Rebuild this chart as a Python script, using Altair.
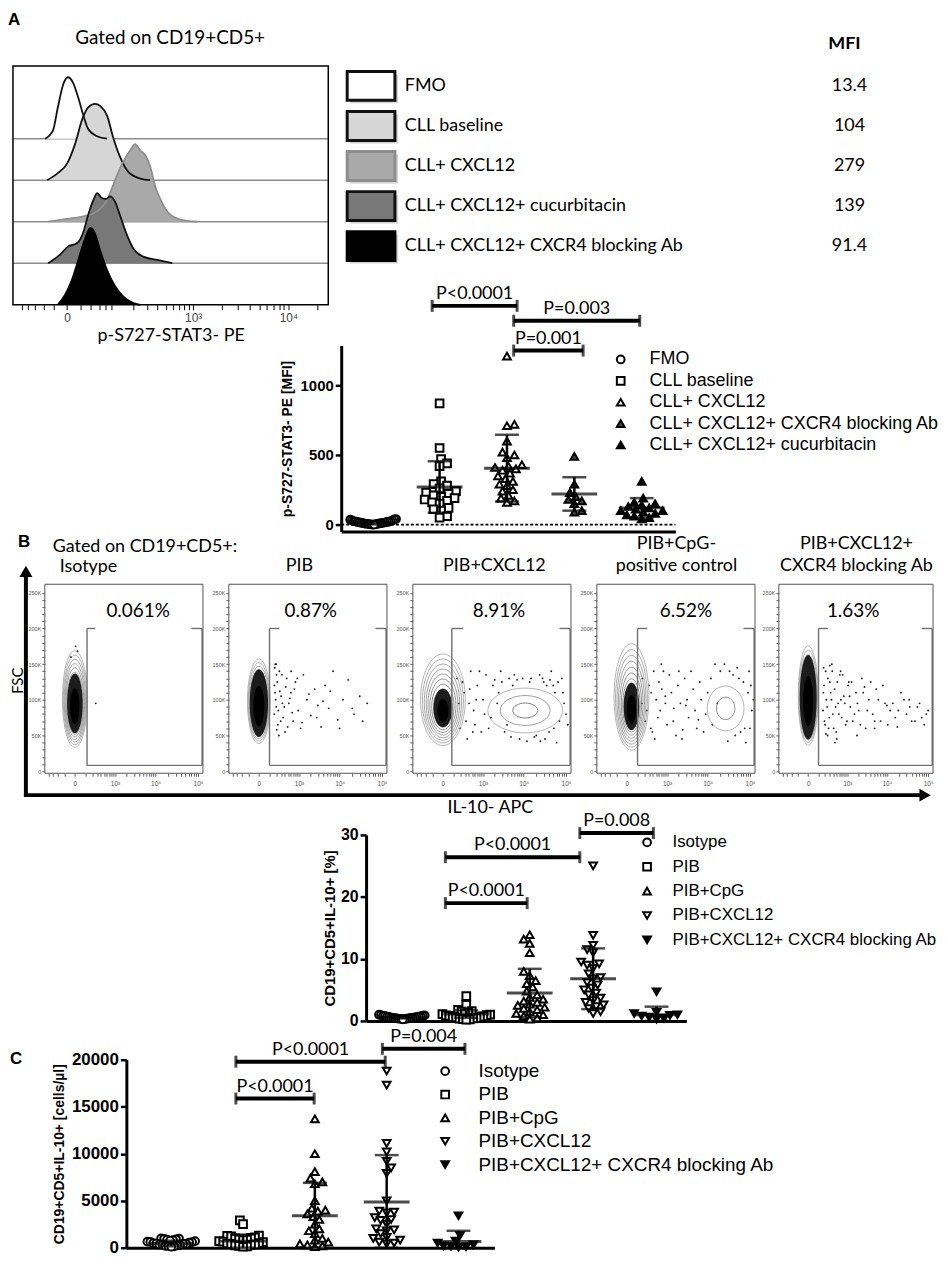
import altair as alt
import numpy as np
import pandas as pd

SANS = "Liberation Sans"
CAL = "Lato"
W, H = 932, 1248          # whole canvas (plot area == canvas, padding 0)

# ======================= A: histogram overlay =======================
HIST_NAMES = ["FMO", "CLL baseline", "CLL+ CXCL12", "CLL+ CXCL12+ cucurbitacin",
              "CLL+ CXCL12+ CXCR4 blocking Ab"]
HIST_MFI = ["13.4", "104", "279", "139", "91.4"]
HIST_FILL = ["#ffffff", "#d6d6d6", "#a9a9a9", "#787878", "#000000"]
HIST_EDGE = ["#111111", "#111111", "#8e8e8e", "#111111", "#000000"]
HIST_LANE = [4, 3, 2, 1, 0]

fmo_x = [-36, -21, -13, -5, 1, 8, 16, 25, 34, 55, 84]
fmo_h = [0, 0.2, 0.75, 1.31, 1.48, 1.35, 0.99, 0.56, 0.24, 0.06, 0]
base_x = [-32, -14, 0, 11, 23, 34, 50, 63, 84, 105, 133, 173, 247, 327]
base_h = [0, 0.16, 0.40, 0.87, 1.47, 1.75, 1.84, 1.79, 1.55, 1.03, 0.56, 0.2, 0.04, 0]
cxcl_x = [-30, 0, 25, 55, 84, 113, 147, 184, 213, 247, 285, 327, 375, 453, 558, 762, 1110]
cxcl_h = [0, 0.07, 0.13, 0.25, 0.53, 1.01, 1.44, 1.72, 1.87, 1.72, 1.6, 1.33, 0.85, 0.45, 0.17, 0.04, 0]
cucu_x = [-30, -10, 1, 14, 25, 34, 45, 55, 69, 81, 94, 113, 133, 167, 201, 269, 396, 588]
cucu_h = [0, 0.2, 0.4, 0.48, 0.75, 1.15, 1.5, 1.69, 1.56, 1.55, 1.61, 1.47, 1.15, 0.67, 0.36, 0.16, 0.08, 0]
block_x = [-13, -2.5, 6.5, 16, 28, 39, 50, 63, 84, 113, 147, 201, 247]
block_h = [0, 0.24, 0.6, 1.07, 1.59, 1.85, 1.71, 1.31, 0.83, 0.44, 0.2, 0.04, 0]
HIST_X = [fmo_x, base_x, cxcl_x, cucu_x, block_x]
HIST_H = [fmo_h, base_h, cxcl_h, cucu_h, block_h]
HX_TICKS = [-100, -80, -60, -40, -20, 0, 20, 40, 60, 80, 100] + list(range(200, 1000, 100)) \
    + list(range(1000, 10000, 1000)) + [10000, 20000]

# ======================= A: dot plot =======================
A_GROUPS = ["FMO", "CLL baseline", "CLL+ CXCL12", "CLL+ CXCL12+ CXCR4 blocking Ab",
            "CLL+ CXCL12+ cucurbitacin"]
A_SHAPES = ["circle", "square", "triangle-up", "triangle-up", "triangle-up"]
A_FILLS = ["white", "white", "white", "#444444", "black"]
a_fmo = [40, 38, 35, 30, 28, 25, 24, 22, 20, 19, 18, 16, 15, 13, 12, 11, 10, 8, 7, 6, 5, 4, 3, 2,
         0, 0]
a_base = [870, 550, 470, 440, 420, 310, 290, 280, 260, 240, 230, 220, 210, 200, 190, 180,
          170, 160, 150, 120, 110, 100, 60, 50]
a_cxcl = [1210, 720, 710, 600, 520, 500, 480, 430, 420, 410, 400, 390, 370, 350, 330, 310,
          290, 280, 250, 240, 210, 190, 170, 160]
a_block = [490, 290, 230, 200, 180, 170, 150, 100, 90]
a_cucu = [310, 190, 160, 150, 140, 130, 120, 110, 100, 100, 90, 80, 70, 60, 50, 40]
A_MEAN = [13, 270, 405, 220, 120]
A_SD = [12, 185, 240, 120, 70]
A_BR_X1 = [0.89, 2.1, 2.1]
A_BR_X2 = [2.15, 3.97, 3.13]
A_BR_Y = [1571, 1464, 1250]
A_BR_LAB = ["P<0.0001", "P=0.003", "P=0.001"]

# ======================= B: flow panels =======================
FLOW_TITLES = [["Gated on CD19+CD5+:", "Isotype"], ["PIB"], ["PIB+CXCL12"],
               ["PIB+CpG-", "positive control"], ["PIB+CXCL12+", "CXCR4 blocking Ab"]]
FLOW_PCT = ["0.061%", "0.87%", "8.91%", "6.52%", "1.63%"]
PCT_X = [3800, 2000, 2550, 3000, 1430]
PCT_Y = 225
GATE_L = [120, 100, 80, 100, 100]
GATE_R = 125000
GATE_B, GATE_T = 8, 200
STUB_L, STUB_R = 260, 70000
CL_PANEL = [0, 1, 2, 2, 3, 3, 4]
CL_X = [0, 0, 0, 10900, 36, 26700, 0]
CL_Y = [101, 98, 100, 85, 104, 88, 106]
CL_CORE_Y = [85, 85, 80, 85, 80, 88, 90]
CL_W = [25, 23, 45, 75, 35, 37, 20]
CL_H = [97, 85, 92, 45, 107, 45, 100]
CL_RINGS = [14, 14, 12, 3, 12, 2, 14]
CL_CORE = [0.62, 0.8, 0.42, 0.0, 0.45, 0.0, 0.85]
ev_iso_x = [270, 5, 20, -30]
ev_iso_y = [95, 175, 168, 160]
ev_pib_x = [170, 200, 230, 260, 300, 350, 400, 450, 520, 600, 700, 800, 950, 1100, 1300, 1600,
            2000, 2500, 3000, 3600, 4500, 5500, 7000, 9000, 12000, 16000, 22000, 30000, 45000,
            200, 250, 180,
            165, 175, 190, 210, 220, 240, 270, 290, 320, 380, 420, 480, 560, 650, 750, 900,
            1200, 1800, 2800, 4000, 6000, 10000, 20000, 35000, 185, 205, 330, 610]
ev_pib_y = [120, 90, 65, 140, 105, 75, 55, 130, 95, 110, 70, 125, 85, 60, 135, 100, 78, 115, 92,
            62, 120, 88, 140, 72, 100, 128, 80, 105, 95, 150, 50, 110,
            80, 145, 100, 58, 125, 85, 112, 70, 135, 90, 118, 62, 102, 82, 115, 130,
            68, 108, 75, 98, 112, 60, 88, 70, 150, 135, 95, 140]
ev_cx_x = [150, 200, 280, 350, 450, 550, 700, 900, 1200, 1600, 2000, 3000, 4500, 6000, 8000,
           15000, 20000, 30000, 40000, 55000, 70000, 90000, 60000, 45000, 25000, 5000, 2500,
           1000, 600, 400, 35000, 80000,
           180, 240, 320, 420, 520, 650, 800, 1100, 1400, 1800, 2300, 2800, 3500, 4000, 5500,
           7000, 9500, 12000, 14000, 18000, 24000, 32000, 42000, 52000, 65000, 85000, 100000,
           110000, 50000, 28000]
ev_cx_y = [130, 60, 110, 45, 140, 85, 120, 55, 135, 75, 128, 125, 130, 135, 45, 130, 50, 125, 55,
           110, 70, 95, 40, 140, 42, 48, 110, 100, 65, 95, 120, 130,
           95, 125, 70, 115, 55, 100, 140, 80, 60, 120, 95, 140, 55, 65, 120,
           128, 130, 42, 125, 48, 135, 45, 128, 60, 125, 110, 80, 65, 120, 130]
ev_cpg_x = [160, 220, 300, 380, 500, 650, 800, 1000, 1300, 1700, 2200, 2800, 3500, 4500, 5500,
            7000, 9000, 12000, 15000, 50000, 70000, 90000, 100000, 60000, 80000, 40000, 1500,
            2500, 600, 900, 450, 3000, 6000, 20000, 110000, 95000,
            170, 250, 340, 420, 560, 720, 900, 1150, 1450, 1900, 2400, 3200, 4000, 5000, 6500,
            8000, 10000, 13000, 17000, 25000, 33000, 45000, 55000, 75000, 105000, 120000, 30000,
            2000, 700, 350]
ev_cpg_y = [95, 70, 120, 55, 100, 85, 140, 65, 110, 50, 95, 130, 75, 115, 60, 100, 80, 130, 150,
            145, 125, 110, 60, 55, 40, 135, 88, 58, 125, 105, 45, 92, 72, 140, 85, 140,
            130, 85, 60, 140, 75, 115, 95, 135, 70, 120, 45, 100, 140, 85, 125,
            55, 110, 65, 95, 150, 140, 50, 130, 60, 120, 100, 42, 140, 150, 110]
ev_blk_x = [170, 190, 210, 240, 270, 300, 340, 380, 430, 480, 550, 620, 700, 800, 900, 1050, 1200,
            1400, 1700, 2000, 2400, 3000, 3600, 4500, 5500, 7000, 9000, 12000, 16000, 22000,
            30000, 40000, 55000, 70000, 90000, 250, 350, 500, 650, 1100, 1800, 2800, 5000,
            10000, 18000, 35000,
            165, 180, 200, 225, 255, 285, 320, 360, 400, 460, 520, 580, 660, 750, 850, 980,
            1150, 1300, 1550, 1850, 2200, 2600, 3300, 4000, 5000, 6200, 8000, 10500, 14000,
            19000, 26000, 36000, 48000, 62000, 80000, 100000, 175, 215, 300, 440]
ev_blk_y = [110, 70, 140, 90, 60, 125, 100, 80, 115, 55, 95, 135, 75, 105, 65, 120, 90, 70, 110,
            85, 130, 60, 100, 80, 115, 70, 95, 85, 75, 110, 80, 70, 90, 75, 80, 50, 150, 45, 140,
            125, 50, 118, 60, 92, 62, 100,
            85, 120, 65, 100, 130, 75, 110, 140, 60, 90, 125, 80, 100, 135, 95, 70,
            105, 125, 80, 95, 65, 110, 85, 125, 70, 100, 120, 65, 95,
            85, 100, 90, 70, 95, 65, 85, 145, 52, 148, 40]
EV_X = [ev_iso_x, ev_pib_x, ev_cx_x, ev_cpg_x, ev_blk_x]
EV_Y = [ev_iso_y, ev_pib_y, ev_cx_y, ev_cpg_y, ev_blk_y]
FX_TICKS = [-400, -300, -200, -100, 0] + list(range(100, 1000, 100)) + list(range(1000, 10000, 1000)) \
    + list(range(10000, 100000, 10000)) + [100000]

# ======================= B: dot plot =======================
B_GROUPS = ["Isotype", "PIB", "PIB+CpG", "PIB+CXCL12", "PIB+CXCL12+ CXCR4 blocking Ab"]
B_SHAPES = ["circle", "square", "triangle-up", "triangle-down", "triangle-down"]
B_FILLS = ["white", "white", "white", "white", "black"]
b_iso = [1.0, 0.95, 0.9, 0.85, 0.82, 0.8, 0.75, 0.7, 0.68, 0.65, 0.6, 0.58, 0.55, 0.5, 0.5, 0.48,
         0.45, 0.42, 0.4, 0.38, 0.35, 0.32, 0.3, 0.25]
b_pib = [4.0, 2.6, 1.8, 1.6, 1.5, 1.3, 1.2, 1.1, 1.0, 0.95, 0.9, 0.8, 0.75, 0.7, 0.6, 0.55, 0.5,
         0.4, 0.35, 0.3, 0.25, 0.2]
b_cpg = [13.9, 13.2, 12.5, 11.0, 8.0, 7.3, 6.5, 6.0, 5.5, 4.8, 4.2, 3.8, 3.5, 3.2, 3.0, 2.7, 2.5,
         2.2, 2.0, 1.8, 1.5, 1.2, 1.0, 0.8, 0.5, 0.3]
b_cxcl = [25.0, 13.8, 12.2, 11.5, 11.0, 9.5, 9.2, 9.0, 8.5, 7.6, 7.0, 6.8, 6.2, 5.8, 5.3, 5.0, 4.5,
          4.2, 3.7, 3.3, 3.0, 2.6, 2.3, 2.0, 1.5, 1.2]
b_block = [4.7, 1.4, 1.2, 1.0, 0.9, 0.8, 0.6, 0.4, 0.3]
B_MEAN = [0.6, 1.1, 4.5, 6.8, 1.0]
B_SD = [0.2, 0.6, 3.9, 4.9, 1.3]
B_BR_X1 = [0.67, 0.67, 2.79]
B_BR_X2 = [1.96, 2.79, 3.95]
B_BR_Y = [19.0, 26.4, 30.3]
B_BR_LAB = ["P<0.0001", "P<0.0001", "P=0.008"]

# ======================= C: dot plot =======================
c_iso = [1000, 980, 950, 900, 850, 800, 750, 700, 650, 620, 600, 550, 500, 450, 420, 400, 350,
         320, 300, 250, 200, 180, 150, 100]
c_pib = [2900, 2500, 1300, 1250, 1200, 1100, 1050, 1000, 900, 850, 800, 700, 650, 600, 500, 450,
         400, 350, 300, 250, 200, 150, 100]
c_cpg = [13700, 10000, 8100, 7400, 7000, 6800, 5000, 4200, 4000, 3900, 3600, 3300, 3000, 2500,
         2000, 1800, 1500, 1000, 800, 600, 400, 300, 200, 100]
c_cxcl = [18800, 17300, 11100, 10200, 9200, 8500, 7900, 5000, 3900, 3800, 3700, 3200, 3000, 2900,
          2500, 2000, 1900, 1800, 1500, 1100, 1000, 800, 600, 500, 400]
c_block = [3400, 1300, 700, 500, 300, 200, 150, 100, 50]
C_MEAN = [450, 700, 3400, 4850, 650]
C_SD = [300, 700, 3500, 5000, 1150]
C_BR_X1 = [0.9, 0.9, 2.94]
C_BR_X2 = [1.99, 2.98, 4.09]
C_BR_Y = [15870, 19790, 21160]
C_BR_LAB = ["P<0.0001", "P<0.0001", "P=0.004"]

# ======================= layout (canvas pixels) =======================
HIST_XR, HIST_YR = [5, 322], [294, 54]
LEG_ROW_Y = [74, 235]
DOTA_XR, DOTA_YR = [335, 671], [522, 335]
FLOW_X0 = [37, 222, 407, 592, 775]
FLOW_W = [159, 159, 159, 159, 155]
FLOW_YR = [765, 575]
TITLE_X = [None, 293, 489, 672, 853]
DOTB_XR, DOTB_YR = [360, 682], [1014, 827]
DOTC_XR, DOTC_YR = [119, 489], [1242, 1053]


# ------------------------------------------------------------------
def txt(s, x, y, **kw):
    base = dict(align="left", baseline="top", font=CAL, fontSize=18, color="black")
    base.update(kw)
    return alt.Chart(pd.DataFrame({"t": [s]})).mark_text(**base).encode(
        x=alt.value(x), y=alt.value(y), text="t:N")


def swarm(vals, ppx, ppy, d, maxspread):
    placed, offs = [], [0.0] * len(vals)
    for i in sorted(range(len(vals)), key=lambda k: vals[k]):
        y = vals[i] * ppy
        chosen = 0.0
        for j in range(0, 400):
            if j == 0:
                cands = [0.0]
            elif j % 2:
                cands = [j * 1.5, -j * 1.5]
            else:
                cands = [-j * 1.5, j * 1.5]
            ok = None
            for c in cands:
                if all((c - px) ** 2 + (y - py) ** 2 >= d * d for px, py in placed):
                    ok = c
                    break
            if ok is not None:
                chosen = ok
                break
        placed.append((chosen, y))
        offs[i] = chosen
    m = max(abs(o) for o in offs) or 1.0
    s = min(1.0, maxspread / m)
    return [o * s / ppx for o in offs]


def dot_plot(groups, shapes, fills, lists, means, sds, bx1, bx2, by, blab, xdom, ydom, yticks,
             xr, yr, ytitle, tick_fs, title_fs, title_pad, leg, zero_line=False, d=7.0):
    ppx = (xr[1] - xr[0]) / (xdom[1] - xdom[0])
    ppy = (yr[0] - yr[1]) / (ydom[1] - ydom[0])
    rows = []
    for gi, vals in enumerate(lists):
        for v, o in zip(vals, swarm(vals, ppx, ppy, d, 24)):
            rows.append({"grp": groups[gi], "pos": gi + o, "val": v})
    pts = pd.DataFrame(rows)
    xs = alt.Scale(domain=xdom, range=xr, nice=False, zero=False)
    ys = alt.Scale(domain=ydom, range=yr, nice=False, zero=False)
    xax = alt.Axis(orient="bottom", offset=yr[0] - H, labels=False, ticks=False, title=None,
                   domainWidth=3, domainColor="black", grid=False)
    yax = alt.Axis(orient="left", offset=-xr[0], values=yticks, format="d", title=ytitle,
                   titleFont=SANS, titleFontWeight="bold", titleFontSize=title_fs,
                   titleColor="black", titlePadding=title_pad, labelFont=SANS,
                   labelFontWeight="bold", labelFontSize=tick_fs, labelColor="black",
                   labelPadding=2, tickSize=6, tickWidth=2.5, tickColor="black",
                   domainWidth=3, domainColor="black", grid=False, labelFlush=False)
    legend = alt.Legend(orient="none", legendX=leg["x"], legendY=leg["y"], title=None,
                        labelFont=SANS, labelFontSize=leg["fs"], labelColor="black",
                        symbolSize=60, symbolStrokeWidth=2, rowPadding=leg["rp"],
                        labelOffset=leg["lo"], symbolOpacity=1, labelLimit=500)
    X = lambda f: alt.X(f, scale=xs, axis=xax)
    Y = lambda f: alt.Y(f, scale=ys, axis=yax)
    layers = []
    if zero_line:
        layers.append(alt.Chart(pd.DataFrame({"a": [xdom[0]], "b": [xdom[1]], "z": [0]})).mark_rule(
            strokeDash=[3, 2], strokeWidth=1.6, color="black").encode(
            x=X("a:Q"), x2="b:Q", y=Y("z:Q")))
    layers.append(alt.Chart(pts).mark_point(filled=True, strokeWidth=2, size=60,
                                            opacity=1).encode(
        x=X("pos:Q"), y=Y("val:Q"),
        shape=alt.Shape("grp:N", scale=alt.Scale(domain=groups, range=shapes), legend=legend),
        fill=alt.Fill("grp:N", scale=alt.Scale(domain=groups, range=fills), legend=legend),
        stroke=alt.Stroke("grp:N", scale=alt.Scale(domain=groups, range=["black"] * len(groups)),
                          legend=legend)))
    st = pd.DataFrame({"pos": list(range(len(groups))), "mean": means,
                       "lo": [max(m - s, ydom[0]) for m, s in zip(means, sds)],
                       "hi": [m + s for m, s in zip(means, sds)]})
    layers.append(alt.Chart(st).mark_rule(strokeWidth=2.5, color="black").encode(
        x=X("pos:Q"), y=Y("lo:Q"), y2="hi:Q"))
    layers.append(alt.Chart(st).mark_tick(orient="horizontal", size=46, thickness=3,
                                          color="black").encode(x=X("pos:Q"), y=Y("mean:Q")))
    layers.append(alt.Chart(st).mark_tick(orient="horizontal", size=24, thickness=2.5,
                                          color="black").encode(x=X("pos:Q"), y=Y("hi:Q")))
    layers.append(alt.Chart(st).mark_tick(orient="horizontal", size=24, thickness=2.5,
                                          color="black").encode(x=X("pos:Q"), y=Y("lo:Q")))
    br = pd.DataFrame({"x1": bx1, "x2": bx2, "y": by, "lab": blab,
                       "xm": [(a + b) / 2 for a, b in zip(bx1, bx2)]})
    layers.append(alt.Chart(br).mark_rule(strokeWidth=4, color="black").encode(
        x=X("x1:Q"), x2="x2:Q", y=Y("y:Q")))
    layers.append(alt.Chart(br).transform_fold(["x1", "x2"], as_=["end", "xe"]).mark_tick(
        orient="vertical", size=12, thickness=3, color="black").encode(x=X("xe:Q"), y=Y("y:Q")))
    layers.append(alt.Chart(br).mark_text(font=CAL, fontSize=18, baseline="alphabetic", dy=-7,
                                          color="black").encode(x=X("xm:Q"), y=Y("y:Q"),
                                                                text="lab:N"))
    return alt.layer(*layers)


def ellipse_path(a):
    k = 0.5523
    return (f"M0,-1C{k*a:.3f},-1,{a:.3f},{-k:.3f},{a:.3f},0"
            f"C{a:.3f},{k:.3f},{k*a:.3f},1,0,1"
            f"C{-k*a:.3f},1,{-a:.3f},{k:.3f},{-a:.3f},0"
            f"C{-a:.3f},{-k:.3f},{-k*a:.3f},-1,0,-1Z")


def flow_panel(p):
    x0, w = FLOW_X0[p], FLOW_W[p]
    FX = alt.Scale(type="symlog", constant=129, domain=[-527, 131000], range=[x0, x0 + w],
                   nice=False, zero=False)
    FY = alt.Scale(domain=[-3, 262], range=FLOW_YR, nice=False, zero=False)
    fx_axis = alt.Axis(orient="bottom", offset=FLOW_YR[0] - H, values=FX_TICKS,
                       labelExpr="datum.value == 0 ? '0' : datum.value == 1000 ? '10³' : "
                                 "datum.value == 10000 ? '10⁴' : datum.value == 100000 ? '10⁵' : ''",
                       tickSize=3, tickColor="#333", tickWidth=0.8, domain=False, grid=False,
                       labelFont=SANS, labelFontSize=6.5, labelColor="#555", labelPadding=4,
                       labelOverlap=False, labelFlush=False, title=None)
    fy_axis = alt.Axis(orient="left", offset=-x0, values=list(range(0, 260, 10)),
                       labelExpr="datum.value % 50 == 0 ? (datum.value == 0 ? '0' : datum.value + 'K') : ''",
                       tickSize=3, tickColor="#333", tickWidth=0.8, domain=False, grid=False,
                       labelFont=SANS, labelFontSize=5.5, labelColor="#555", labelPadding=1,
                       labelOverlap=False, labelFlush=False, title=None)
    X = lambda f: alt.X(f, scale=FX, axis=fx_axis)
    Y = lambda f: alt.Y(f, scale=FY, axis=fy_axis)
    layers = []
    ev = pd.DataFrame({"x": EV_X[p], "y": EV_Y[p]})
    layers.append(alt.Chart(ev).mark_circle(size=3.5, color="#1a1a1a", opacity=1).encode(
        x=X("x:Q"), y=Y("y:Q")))
    rings, cores = [], []
    for c in range(len(CL_PANEL)):
        if CL_PANEL[c] != p:
            continue
        path = ellipse_path(CL_W[c] / CL_H[c])
        n = CL_RINGS[c]
        for j in range(n):
            t = 1 - j / n
            g = int(0x2a + (0x95 - 0x2a) * t)
            rings.append({"x": CL_X[c], "y": CL_CORE_Y[c] + (CL_Y[c] - CL_CORE_Y[c]) * t,
                          "shape": path, "size": (CL_H[c] * t) ** 2,
                          "col": f"#{g:02x}{g:02x}{g:02x}"})
        if CL_CORE[c] > 0:
            for f, col in [(CL_CORE[c], "#1c1c1c"), (CL_CORE[c] * 0.6, "#000000")]:
                cores.append({"x": CL_X[c], "y": CL_CORE_Y[c] + (CL_Y[c] - CL_CORE_Y[c]) * f,
                              "shape": path, "size": (CL_H[c] * f) ** 2, "col": col})
    layers.append(alt.Chart(pd.DataFrame(rings)).mark_point(filled=False, strokeWidth=0.7,
                                                            opacity=1).encode(
        x=X("x:Q"), y=Y("y:Q"), shape=alt.Shape("shape:N", scale=None),
        size=alt.Size("size:Q", scale=None), stroke=alt.Stroke("col:N", scale=None)))
    if cores:
        layers.append(alt.Chart(pd.DataFrame(cores)).mark_point(filled=True, opacity=1,
                                                                strokeWidth=0).encode(
            x=X("x:Q"), y=Y("y:Q"), shape=alt.Shape("shape:N", scale=None),
            size=alt.Size("size:Q", scale=None), fill=alt.Fill("col:N", scale=None)))
    gl = GATE_L[p]
    gate = pd.DataFrame({
        "x": [gl, gl, GATE_R, gl, STUB_R],
        "x2": [gl, GATE_R, GATE_R, STUB_L, GATE_R],
        "y": [GATE_B, GATE_B, GATE_B, GATE_T, GATE_T],
        "y2": [GATE_T, GATE_B, GATE_T, GATE_T, GATE_T]})
    layers.append(alt.Chart(gate).mark_rule(color="#707070", strokeWidth=1.4).encode(
        x=X("x:Q"), x2="x2:Q", y=Y("y:Q"), y2="y2:Q"))
    frame = pd.DataFrame({"x": [-527], "x2": [131000], "y": [-3], "y2": [262]})
    layers.append(alt.Chart(frame).mark_rect(fill="white", fillOpacity=0, stroke="#555",
                                             strokeWidth=1).encode(
        x=X("x:Q"), x2="x2:Q", y=Y("y:Q"), y2="y2:Q"))
    layers.append(alt.Chart(pd.DataFrame({"x": [PCT_X[p]], "y": [PCT_Y], "t": [FLOW_PCT[p]]}))
                  .mark_text(font=CAL, fontSize=19, color="black").encode(
        x=X("x:Q"), y=Y("y:Q"), text="t:N"))
    lines = FLOW_TITLES[p]
    if p == 0:
        layers.append(txt(lines[0], 45, 543, baseline="alphabetic"))
        layers.append(txt(lines[1], 52, 563, baseline="alphabetic"))
    else:
        ys_ = [562] if len(lines) == 1 else [540, 562]
        for line, yy in zip(lines, ys_):
            layers.append(txt(line, TITLE_X[p], yy, baseline="alphabetic", align="center"))
    return alt.layer(*layers)


# ------------------------- panel A: histogram -------------------------
HX = alt.Scale(type="symlog", constant=53, domain=[-138, 25800], range=HIST_XR, nice=False,
               zero=False)
HY = alt.Scale(domain=[0, 5.75], range=HIST_YR, nice=False, zero=False)
hx_axis = alt.Axis(orient="bottom", offset=HIST_YR[0] - H, values=HX_TICKS,
                   labelExpr="datum.value == 0 ? '0' : datum.value == 1000 ? '10³' : "
                             "datum.value == 10000 ? '10⁴' : ''",
                   tickSize=5, tickColor="black", tickWidth=1, domain=False, grid=False,
                   labelColor="#444", labelFont=SANS, labelFontSize=12, labelPadding=3,
                   labelOverlap=False, labelFlush=False, title="p-S727-STAT3- PE",
                   titleFont=CAL, titleFontSize=18, titleFontWeight="normal",
                   titleColor="black", titlePadding=3)
HXE = lambda f: alt.X(f, scale=HX, axis=hx_axis)
HYE = lambda f: alt.Y(f, scale=HY, axis=None)
hist_layers = [alt.Chart(pd.DataFrame({"a": -138, "b": 25800, "lane": [1, 2, 3, 4]})).mark_rule(
    color="#8c8c8c", strokeWidth=1.5).encode(x=HXE("a:Q"), x2="b:Q", y=HYE("lane:Q"))]
hist_dfs = [pd.DataFrame({"x": HIST_X[i], "top": [HIST_LANE[i] + h for h in HIST_H[i]],
                          "base": HIST_LANE[i]}) for i in range(5)]
for i in range(5):
    hist_layers.append(alt.Chart(hist_dfs[i]).mark_area(
        color=HIST_FILL[i], opacity=1, interpolate="monotone").encode(
        x=HXE("x:Q"), y=HYE("top:Q"), y2="base:Q"))
for i in range(5):
    hist_layers.append(alt.Chart(hist_dfs[i]).mark_line(
        color=HIST_EDGE[i], strokeWidth=1.8, interpolate="monotone").encode(
        x=HXE("x:Q"), y=HYE("top:Q")))
hist_layers.append(alt.Chart(pd.DataFrame({"x": [-138], "x2": [25800], "y": [0], "y2": [5.75]}))
                   .mark_rect(fill="white", fillOpacity=0, stroke="black", strokeWidth=1.5)
                   .encode(x=HXE("x:Q"), x2="x2:Q", y=HYE("y:Q"), y2="y2:Q"))
hist_layers.append(txt("A", 0, 0, font=SANS, fontWeight="bold", fontSize=17))
hist_layers.append(txt("Gated on CD19+CD5+", 163, 32, align="center", baseline="alphabetic",
                       fontSize=19))
hist = alt.layer(*hist_layers)

# ------------------------- panel A: key table -------------------------
LY = alt.Scale(domain=[0, 4], range=LEG_ROW_Y, nice=False, zero=False)
leg_df = pd.DataFrame({"row": list(range(5)), "name": HIST_NAMES, "mfi": HIST_MFI,
                       "fill": HIST_FILL, "edge": HIST_EDGE})
leg_df["y1"] = leg_df["row"] - 0.36
leg_df["y2"] = leg_df["row"] + 0.36
leg_df["s1"] = leg_df["y1"] + 0.075
leg_df["s2"] = leg_df["y2"] + 0.075
legA = alt.layer(
    alt.Chart(leg_df).mark_rect(color="#cfcfcf").encode(
        x=alt.value(344), x2=alt.value(392), y=alt.Y("s1:Q", scale=LY, axis=None), y2="s2:Q"),
    alt.Chart(leg_df).mark_rect(strokeWidth=3).encode(
        x=alt.value(341), x2=alt.value(389), y=alt.Y("y1:Q", scale=LY, axis=None), y2="y2:Q",
        fill=alt.Fill("fill:N", scale=None), stroke=alt.Stroke("edge:N", scale=None)),
    alt.Chart(leg_df).mark_text(align="left", baseline="middle", font=CAL, fontSize=18,
                                color="black").encode(
        x=alt.value(399), y=alt.Y("row:Q", scale=LY, axis=None), text="name:N"),
    alt.Chart(leg_df).mark_text(align="center", baseline="middle", font=CAL, fontSize=18,
                                color="black").encode(
        x=alt.value(846), y=alt.Y("row:Q", scale=LY, axis=None), text="mfi:N"),
    txt("MFI", 841, 32, align="center", baseline="middle", fontWeight="bold"),
)

dotA = dot_plot(A_GROUPS, A_SHAPES, A_FILLS, [a_fmo, a_base, a_cxcl, a_block, a_cucu],
                A_MEAN, A_SD, A_BR_X1, A_BR_X2, A_BR_Y, A_BR_LAB,
                [-0.46, 4.5], [-50, 1286], [0, 500, 1000], DOTA_XR, DOTA_YR,
                "p-S727-STAT3- PE [MFI]", 15, 14, 6,
                {"x": 607, "y": 340, "fs": 18, "rp": 3.5, "lo": 20}, zero_line=True, d=7.0)

dotB = dot_plot(B_GROUPS, B_SHAPES, B_FILLS, [b_iso, b_pib, b_cpg, b_cxcl, b_block],
                B_MEAN, B_SD, B_BR_X1, B_BR_X2, B_BR_Y, B_BR_LAB,
                [-0.58, 4.47], [0, 30], [0, 10, 20, 30], DOTB_XR, DOTB_YR,
                "CD19+CD5+IL-10+ [%]", 16, 15, 3,
                {"x": 634, "y": 826, "fs": 17, "rp": 6.5, "lo": 17}, d=6.5)

dotC = dot_plot(B_GROUPS, B_SHAPES, B_FILLS, [c_iso, c_pib, c_cpg, c_cxcl, c_block],
                C_MEAN, C_SD, C_BR_X1, C_BR_X2, C_BR_Y, C_BR_LAB,
                [-0.625, 4.5], [0, 20000], [0, 5000, 10000, 15000, 20000], DOTC_XR, DOTC_YR,
                "CD19+CD5+IL-10+ [cells/µl]", 17, 14, 5,
                {"x": 430, "y": 1055, "fs": 19, "rp": 3.5, "lo": 24}, d=6.5)

# ------------------------- B decorations -------------------------
one = pd.DataFrame({"a": [0]})
deco = alt.layer(
    txt("B", 10, 525, font=SANS, fontWeight="bold", fontSize=17),
    txt("C", 2, 1044, font=SANS, fontWeight="bold", fontSize=17),
    alt.Chart(one).mark_rule(strokeWidth=4, color="black").encode(
        x=alt.value(18), y=alt.value(565), y2=alt.value(789)),
    alt.Chart(one).mark_rule(strokeWidth=4, color="black").encode(
        x=alt.value(16), x2=alt.value(920), y=alt.value(787)),
    alt.Chart(one).mark_point(shape="triangle-up", filled=True, color="black", size=170,
                              opacity=1).encode(x=alt.value(18), y=alt.value(562)),
    alt.Chart(one).mark_point(shape="triangle-right", filled=True, color="black", size=170,
                              opacity=1).encode(x=alt.value(922), y=alt.value(787)),
    txt("FSC", 10, 672, angle=270, align="center", baseline="middle", fontSize=15),
    txt("IL-10- APC", 485, 800, align="center", baseline="middle"),
)

ind = dict(x="independent", y="independent", shape="independent", fill="independent",
           stroke="independent")
chart = alt.layer(hist, legA, dotA, *[flow_panel(p) for p in range(5)], dotB, dotC, deco) \
    .resolve_scale(**ind) \
    .resolve_axis(x="independent", y="independent") \
    .resolve_legend(shape="independent", fill="independent", stroke="independent") \
    .properties(width=W, height=H, padding=0, background="white") \
    .configure_view(stroke=None).configure_axis(grid=False)

chart.save("out.html", embed_options={"renderer": "svg", "actions": False})
